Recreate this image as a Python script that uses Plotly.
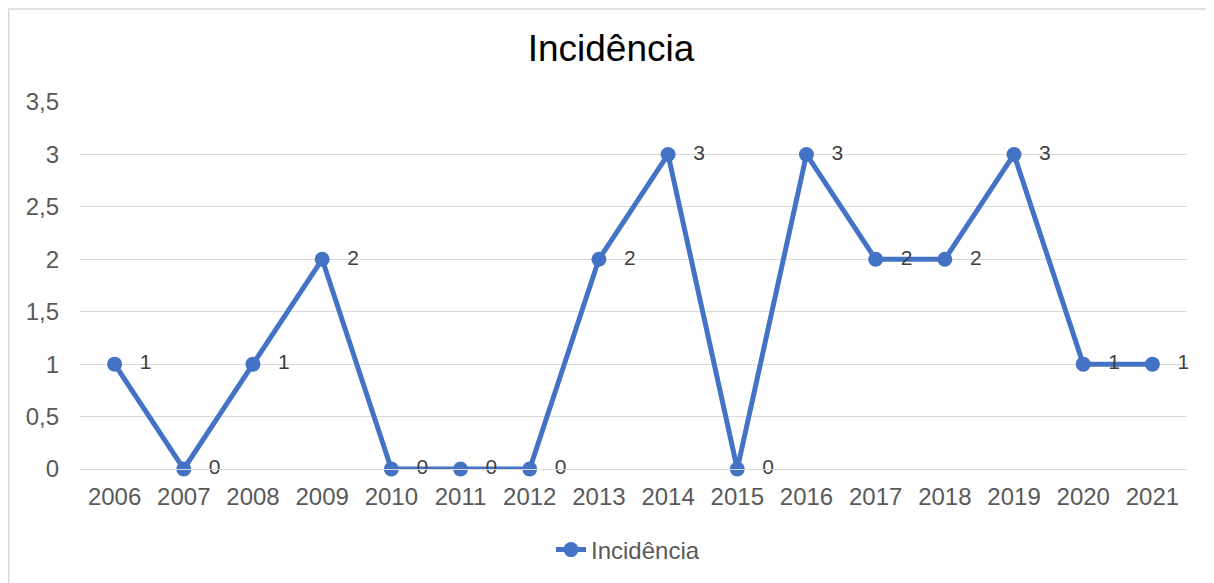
import plotly.graph_objects as go

years = ["2006", "2007", "2008", "2009", "2010", "2011", "2012", "2013",
         "2014", "2015", "2016", "2017", "2018", "2019", "2020", "2021"]
incidencia = [1, 0, 1, 2, 0, 0, 0, 2, 3, 0, 3, 2, 2, 3, 1, 1]
y_ticks = [0, 0.5, 1, 1.5, 2, 2.5, 3, 3.5]
y_tick_labels = ["0", "0,5", "1", "1,5", "2", "2,5", "3", "3,5"]

W, H = 1206, 575
L, T = 72, 94
PW, PH = 1107, 368

fig = go.Figure()
fig.add_trace(go.Scatter(
    x=years, y=incidencia, name="Incidência",
    mode="lines+markers+text",
    text=["\u2002\u2009" + str(v) for v in incidencia],
    textposition="middle right",
    textfont=dict(family="Liberation Sans, Arial", size=21, color="#404040"),
    line=dict(color="#4472C4", width=5),
    marker=dict(color="#4472C4", size=15),
    cliponaxis=False,
))

fig.update_layout(
    width=W, height=H,
    margin=dict(l=L, r=W - L - PW, t=T, b=H - T - PH),
    paper_bgcolor="white", plot_bgcolor="white",
    font=dict(family="Liberation Sans, Arial", size=24, color="#595959"),
    title=dict(text="Incidência", x=0.5, xanchor="center", y=1 - 40 / H, yanchor="middle",
               font=dict(size=37, color="#000000")),
    showlegend=True,
    legend=dict(orientation="h", x=(620 - L) / PW, xanchor="center",
                y=(T + PH - 542) / PH, yanchor="middle",
                font=dict(size=24, color="#595959")),
    xaxis=dict(type="category", showgrid=False, showline=True, linecolor="#D9D9D9",
               linewidth=1, ticks="", tickfont=dict(size=24, color="#595959"),
               range=[-0.5, 15.5], ticklabelstandoff=6),
    yaxis=dict(range=[0, 3.5], tickvals=y_ticks, ticktext=y_tick_labels,
               showgrid=True, gridcolor="#D9D9D9", gridwidth=1, zeroline=False,
               showline=False, ticks="", tickfont=dict(size=24, color="#595959"),
               ticklabelstandoff=20),
    shapes=[dict(type="rect", xref="paper", yref="paper",
                 x0=(0.75 - L) / PW, x1=1.2,
                 y0=-0.5, y1=(T + PH - 0.75) / PH,
                 line=dict(color="#D9D9D9", width=1.5), fillcolor="rgba(0,0,0,0)",
                 layer="below")],
)

fig.write_html("out.html")
